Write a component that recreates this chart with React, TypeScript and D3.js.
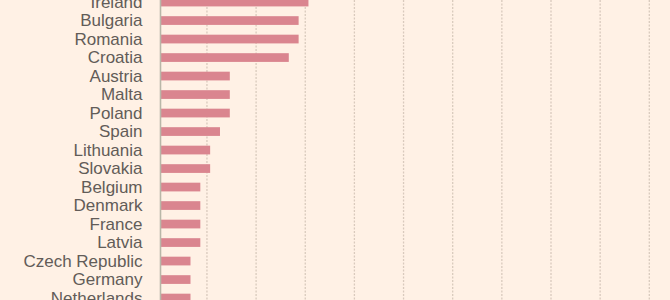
import React from "react";
import * as d3 from "d3";

const countries = [
  "Ireland", "Bulgaria", "Romania", "Croatia", "Austria", "Malta", "Poland", "Spain",
  "Lithuania", "Slovakia", "Belgium", "Denmark", "France", "Latvia", "Czech Republic",
  "Germany", "Netherlands",
];
const values = [15, 14, 14, 13, 7, 7, 7, 6, 5, 5, 4, 4, 4, 4, 3, 3, 3];
const gridTicks = [5, 10, 15, 20, 25, 30, 35, 40, 45, 50];

const W = 670;
const H = 300;

export default function App() {
  const x = d3.scaleLinear().domain([0, 50]).range([161, 161 + 50 * 9.83]);
  const step = 18.5;
  const y = d3
    .scaleBand<string>()
    .domain(countries)
    .range([-7.2, -7.2 + countries.length * step])
    .paddingInner(0.528)
    .paddingOuter(0.264);
  const gridOffset = -3.2;

  return (
    <svg
      width={W}
      height={H}
      style={{ position: "absolute", left: 0, top: 0, background: "#fff1e5" }}
    >
      <rect x={0} y={0} width={W} height={H} fill="#fff1e5" />
      {gridTicks.map((t) => (
        <line
          key={t}
          x1={x(t) + gridOffset}
          x2={x(t) + gridOffset}
          y1={0}
          y2={H}
          stroke="#d9cabd"
          strokeWidth={1.3}
          strokeDasharray="2,1.5"
        />
      ))}
      {countries.map((c, i) => (
        <g key={c}>
          <rect
            x={x(0)}
            y={y(c)}
            width={x(values[i]) - x(0)}
            height={y.bandwidth()}
            fill="#da858f"
          />
          <text
            x={142.5}
            y={(y(c) as number) + y.bandwidth() / 2 + 5.8}
            textAnchor="end"
            fontFamily="'Liberation Sans', Arial, sans-serif"
            fontSize={17}
            fill="#625c58"
          >
            {c}
          </text>
        </g>
      ))}
      <line x1={160.5} x2={160.5} y1={0} y2={H} stroke="#b9b7a8" strokeWidth={1.6} />
    </svg>
  );
}
